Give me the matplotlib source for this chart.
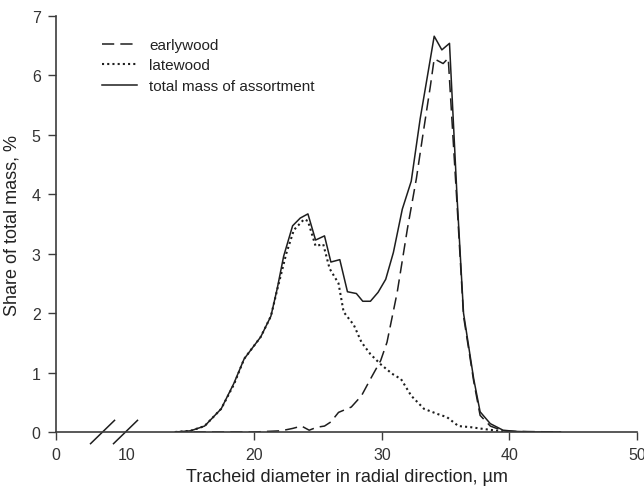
import matplotlib
matplotlib.use('Agg')
import matplotlib.pyplot as plt
import matplotlib.transforms as mtransforms

plt.rcParams['font.family'] = ['Liberation Sans', 'DejaVu Sans']

# data (diameter in um, share in %)
total_x = [13.8, 15.0, 16.1, 17.4, 18.4, 19.2, 19.9, 20.5, 21.3, 21.8, 22.3, 23.0,
           23.6, 24.2, 24.8, 25.5, 26.0, 26.7, 27.3, 28.0, 28.5, 29.1, 29.7, 30.3,
           30.9, 31.6, 32.3, 33.0, 33.5, 34.1, 34.7, 35.3, 35.9, 36.4, 37.2, 37.7,
           38.5, 39.5, 40.5, 42.0, 44.0]
total_y = [0.0, 0.02, 0.1, 0.39, 0.82, 1.23, 1.43, 1.6, 1.95, 2.42, 2.96, 3.47,
           3.6, 3.67, 3.23, 3.3, 2.86, 2.9, 2.36, 2.33, 2.2, 2.2, 2.35, 2.57,
           3.02, 3.75, 4.22, 5.27, 5.9, 6.66, 6.43, 6.54, 3.92, 2.0, 0.89, 0.34,
           0.14, 0.03, 0.01, 0.0, 0.0]

early_x = [13.8, 20.0, 21.0, 22.1, 23.0, 23.7, 24.3, 24.9, 25.5, 26.0, 26.6, 27.6,
           28.4, 29.1, 29.9, 30.4, 31.2, 32.0, 32.7, 33.2, 33.8, 34.1, 34.8, 35.2,
           35.9, 36.4, 37.2, 37.7, 38.5, 39.5, 40.5, 44.0]
early_y = [0.0, 0.0, 0.01, 0.02, 0.06, 0.1, 0.03, 0.08, 0.1, 0.17, 0.33, 0.42,
           0.61, 0.89, 1.2, 1.51, 2.35, 3.42, 4.26, 4.98, 5.82, 6.28, 6.2, 6.29,
           3.8, 1.95, 0.85, 0.28, 0.1, 0.02, 0.01, 0.0]

late_x = [13.8, 15.0, 16.1, 17.4, 18.4, 19.2, 19.9, 20.5, 21.3, 21.8, 22.5, 23.1,
          23.9, 24.2, 24.8, 25.4, 25.9, 26.6, 27.0, 27.8, 28.4, 29.1, 29.9, 30.8,
          31.5, 32.3, 33.3, 34.4, 35.1, 36.0, 37.0, 38.0, 39.1, 40.0]
late_y = [0.0, 0.02, 0.1, 0.39, 0.8, 1.23, 1.43, 1.6, 1.95, 2.4, 3.0, 3.4,
          3.58, 3.55, 3.13, 3.16, 2.75, 2.5, 2.02, 1.8, 1.51, 1.31, 1.14, 0.98,
          0.89, 0.61, 0.39, 0.3, 0.25, 0.1, 0.08, 0.05, 0.02, 0.0]

x_ticks = [4.45, 10, 20, 30, 40, 50]   # axis is broken: "0" sits at the left edge
x_labels = ['0', '10', '20', '30', '40', '50']
y_ticks = [0, 1, 2, 3, 4, 5, 6, 7]

ink = '#1e1e1e'
axis_col = '#3c3c3c'

fig = plt.figure(figsize=(6.44, 4.89), dpi=100)
ax = fig.add_axes([56 / 644, 56 / 489, 581 / 644, 416 / 489])

ax.plot(early_x, early_y, color=ink, lw=1.1, linestyle=(0, (8, 4)), label='earlywood')
ax.plot(late_x, late_y, color=ink, lw=1.5, linestyle=(0, (1, 1.5)), label='latewood')
ax.plot(total_x, total_y, color=ink, lw=1.1, label='total mass of assortment')

ax.set_xlim(4.45, 50)
ax.set_ylim(0, 7)
ax.set_xticks(x_ticks)
ax.set_xticklabels(x_labels)
ax.set_yticks(y_ticks)
ax.xaxis.get_major_ticks()[1].tick1line.set_visible(False)

for side in ['top', 'right']:
    ax.spines[side].set_visible(False)
for side in ['left', 'bottom']:
    ax.spines[side].set_color(axis_col)
    ax.spines[side].set_linewidth(1.2)
ax.tick_params(direction='out', length=6, width=1, color=axis_col,
               labelsize=11.5, labelcolor='#333333', pad=5)

# break marks on the x axis
trans = mtransforms.blended_transform_factory(ax.transData, ax.transAxes)
for xc in [8.1, 9.9]:
    ax.plot([xc - 0.94, xc + 0.94], [-0.028, 0.028], color=ink, lw=1.1,
            transform=trans, clip_on=False)

ax.set_xlabel('Tracheid diameter in radial direction, µm', fontsize=13,
              color='#222222', labelpad=4)
ax.set_ylabel('Share of total mass, %', fontsize=13, color='#222222', labelpad=8)

ax.legend(loc='upper left', bbox_to_anchor=(0.055, 0.98), frameon=False,
          fontsize=11, handlelength=2.3, handletextpad=0.8, labelspacing=0.42,
          labelcolor='#222222')

fig.savefig('out.png', dpi=100)
